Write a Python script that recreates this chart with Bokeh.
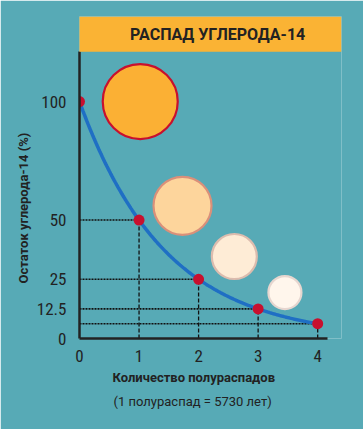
import numpy as np
from bokeh.plotting import figure
from bokeh.models import Label, BoxAnnotation, FixedTicker, Range1d, Title
from bokeh.embed import file_html
from bokeh.resources import INLINE

# data
half_lives = [0, 1, 2, 3, 4]
remaining = [100, 50, 25, 12.5, 6.25]
y_ticks = [0, 12.5, 25, 50, 100]
x_ticks = [0, 1, 2, 3, 4]
title_text = "РАСПАД УГЛЕРОДА-14"
y_title = "Остаток углерода-14 (%)"
x_title = "Количество полураспадов"
x_subtitle = "(1 полураспад = 5730 лет)"
# decorative sample circles (position in data units, diameter in px)
circ_x = [1.02, 1.73, 2.6, 3.45]
circ_y = [100, 56, 34.6, 19.4]
circ_d = [75, 58, 45, 33]
circ_fill = ["#fbb034", "#fdd59c", "#feecd6", "#fff6ec"]
circ_line = ["#c8102e", "#d9907a", "#dcbcae", "#e6d6cf"]

NARROW = "Liberation Sans Narrow, Roboto Condensed, Roboto"
SANS = "Roboto"
BG = "#57aab6"

p = figure(width=363, height=429, output_backend="svg", toolbar_location=None,
           x_range=Range1d(0, 4.40), y_range=Range1d(0, 135.9),
           min_border_left=79, min_border_right=22, min_border_top=16,
           min_border_bottom=91)
p.background_fill_color = BG
p.border_fill_color = BG
p.outline_line_color = None
p.grid.visible = False

for ax in (p.xaxis[0], p.yaxis[0]):
    ax.axis_line_color = "#222222"
    ax.axis_line_width = 2.5
    ax.major_tick_line_color = None
    ax.minor_tick_line_color = None
    ax.major_label_text_color = "#222222"
    ax.major_label_text_font = NARROW
    ax.major_label_text_font_size = "17px"

p.xaxis.ticker = FixedTicker(ticks=x_ticks)
p.yaxis.ticker = FixedTicker(ticks=y_ticks)
p.xaxis.bounds = (0, 4.17)
p.yaxis.bounds = (0, 121)
p.xaxis.major_label_standoff = 5
p.yaxis.major_label_standoff = 7
p.yaxis.major_label_overrides = {0: "0", 12.5: "12.5", 25: "25", 50: "50", 100: "100"}

# guide lines
hx0 = [0] * 4
p.segment(x0=hx0, y0=remaining[1:], x1=half_lives[1:], y1=remaining[1:],
          line_color="#111111", line_width=1.6, line_dash="2 1")
p.segment(x0=half_lives[1:], y0=[0] * 4, x1=half_lives[1:], y1=remaining[1:],
          line_color="#111111", line_width=1.3, line_dash="4 2")

# decay curve through the points (half-life model)
t = np.linspace(half_lives[0], half_lives[-1], 200)
curve = remaining[0] * 0.5 ** t
p.line(t, curve, line_color="#1f6fc4", line_width=3.5)

# circles
p.scatter(circ_x, circ_y, size=circ_d, fill_color=circ_fill, line_color=circ_line,
          line_width=2.2)

# points
p.scatter(half_lives, remaining, size=11, fill_color="#c8102e", line_color=None)

# title band
box = BoxAnnotation(left=-0.02, bottom=121, fill_color="#fab334", fill_alpha=1,
                    line_color=None, level="overlay")
p.add_layout(box)
p.add_layout(Label(x=2.32, y=128.5, text=title_text, text_align="center",
                   text_baseline="middle", text_font=SANS,
                   text_font_style="bold", text_font_size="16px",
                   text_color="#222222", level="overlay"))

# axis titles as side titles
p.add_layout(Title(text=y_title, align="left", offset=55, text_font=SANS,
                   text_font_style="bold", text_font_size="13px",
                   text_color="#222222", standoff=6), "left")
p.add_layout(Title(text=x_title, align="left", offset=33, text_font=SANS,
                   text_font_style="bold", text_font_size="13px",
                   text_color="#222222", standoff=7), "below")
p.add_layout(Title(text=x_subtitle, align="left", offset=34, text_font=SANS,
                   text_font_style="normal", text_font_size="13px",
                   text_color="#222222", standoff=6), "below")

open("out.html", "w").write(file_html(p, INLINE))
